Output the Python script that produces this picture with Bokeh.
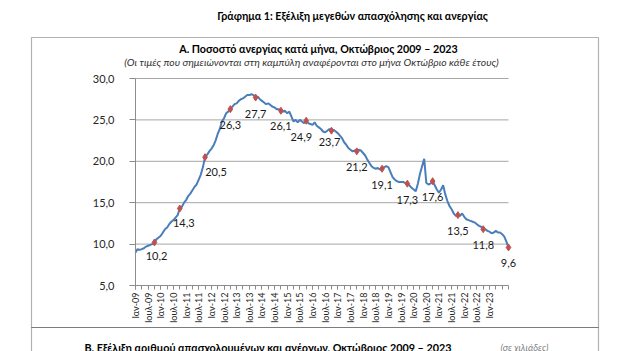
import math
from bokeh.plotting import figure
from bokeh.models import Range1d, FixedTicker, Label, BoxAnnotation, ColumnDataSource
from bokeh.core.properties import value
from bokeh.embed import file_html
from bokeh.resources import INLINE

# ---------------- data ----------------
years = list(range(2009, 2024))
rate_2009 = [9.0, 9.4, 9.3, 9.4, 9.5, 9.7, 9.8, 9.9, 10.0, 10.2, 10.6, 10.8]
rate_2010 = [11.0, 11.4, 11.8, 12.0, 12.4, 12.7, 12.9, 13.2, 13.5, 14.3, 14.5, 15.0]
rate_2011 = [15.3, 15.8, 16.1, 16.5, 16.9, 17.2, 17.8, 18.4, 19.3, 20.5, 20.8, 21.2]
rate_2012 = [21.5, 21.9, 22.5, 23.3, 23.9, 24.8, 25.2, 25.8, 26.0, 26.3, 26.6, 26.9]
rate_2013 = [27.0, 27.3, 27.5, 27.6, 27.8, 28.0, 28.0, 28.1, 28.0, 27.7, 27.8, 27.5]
rate_2014 = [27.3, 27.1, 26.9, 27.0, 26.8, 26.6, 26.5, 26.3, 26.3, 26.1, 26.0, 26.1]
rate_2015 = [25.8, 26.0, 25.4, 24.8, 25.0, 24.7, 25.0, 24.8, 24.6, 24.9, 24.6, 24.5]
rate_2016 = [24.4, 24.7, 24.3, 24.1, 23.9, 23.6, 23.5, 23.7, 23.9, 23.7, 23.8, 23.6]
rate_2017 = [23.4, 23.1, 22.8, 22.3, 22.0, 21.6, 21.4, 21.2, 21.3, 21.2, 21.4, 21.3]
rate_2018 = [21.0, 20.7, 20.2, 19.8, 19.4, 19.2, 19.1, 19.2, 19.0, 19.1, 19.3, 19.4]
rate_2019 = [19.3, 18.7, 18.1, 17.8, 17.6, 17.5, 17.5, 17.5, 17.4, 17.3, 17.1, 16.8]
rate_2020 = [16.6, 16.4, 17.3, 18.5, 19.4, 20.3, 17.4, 17.2, 17.3, 17.6, 17.1, 16.6]
rate_2021 = [16.2, 16.6, 17.1, 16.0, 15.2, 14.6, 14.2, 13.7, 13.4, 13.5, 13.4, 13.7]
rate_2022 = [13.3, 13.0, 12.9, 12.8, 12.7, 12.6, 12.4, 12.2, 12.1, 11.8, 11.8, 11.6]
rate_2023 = [11.5, 11.3, 11.4, 11.6, 11.4, 11.4, 11.2, 10.9, 10.3, 9.6]

october_values = [10.2, 14.3, 20.5, 26.3, 27.7, 26.1, 24.9, 23.7, 21.2, 19.1, 17.3, 17.6, 13.5, 11.8, 9.6]

month_prefix = ["Ιαν", "Ιουλ"]
tick_labels = [f"{m}-{y % 100:02d}" for y in years for m in month_prefix][:-1]

y_ticks = [5, 10, 15, 20, 25, 30]
y_tick_labels = ["5,0", "10,0", "15,0", "20,0", "25,0", "30,0"]

title_text = "Γράφημα 1: Εξέλιξη μεγεθών απασχόλησης και ανεργίας"
panel_title = "Α. Ποσοστό ανεργίας κατά μήνα, Οκτώβριος 2009 – 2023"
panel_note = "(Οι τιμές που σημειώνονται στη καμπύλη αναφέρονται στο μήνα Οκτώβριο κάθε έτους)"
next_panel_title = "Β. Εξέλιξη αριθμού απασχολουμένων και ανέργων, Οκτώβριος 2009 – 2023"
next_panel_unit = "(σε χιλιάδες)"

# ---------------- build ----------------
rates = (rate_2009 + rate_2010 + rate_2011 + rate_2012 + rate_2013 + rate_2014 +
         rate_2015 + rate_2016 + rate_2017 + rate_2018 + rate_2019 + rate_2020 +
         rate_2021 + rate_2022 + rate_2023)
months = list(range(len(rates)))
oct_idx = [(y - 2009) * 12 + 9 for y in years]

W, H = 619, 351
PL, PR, PT, PB = 135, 508, 78, 285   # plot-area edges in canvas pixels
M0, M1 = 0, len(rates) - 1
V0, V1 = 5, 30
sx = (PR - PL) / (M1 - M0)
sy = (PB - PT) / (V1 - V0)

p = figure(width=W, height=H, output_backend="svg", toolbar_location=None,
           x_range=Range1d(M0 - PL / sx, M1 + (W - PR) / sx),
           y_range=Range1d(V0 - (H - PB) / sy, V1 + PT / sy),
           min_border=0, background_fill_color="white", border_fill_color="white")
p.outline_line_color = None


def cx(px):
    return M0 + (px - PL) / sx


def cy(py):
    return V1 - (py - PT) / sy


FONT = "Lato"
GRAY = "#8c8c8c"

# y axis
p.yaxis.fixed_location = M0
p.yaxis.bounds = (V0, V1)
p.yaxis.ticker = FixedTicker(ticks=y_ticks)
p.yaxis.major_label_overrides = {t: s for t, s in zip(y_ticks, y_tick_labels)}
p.yaxis.major_label_text_font = FONT
p.yaxis.major_label_text_font_size = "11px"
p.yaxis.major_label_text_color = "#262626"
p.yaxis.axis_line_color = GRAY
p.yaxis.major_tick_line_color = GRAY
p.yaxis.major_tick_out = 6
p.yaxis.major_tick_in = 0
p.yaxis.minor_tick_line_color = None
p.yaxis.major_label_standoff = 15

# x axis
xt = list(range(0, len(rates), 6))[:len(tick_labels)]
p.xaxis.fixed_location = V0
p.xaxis.bounds = (M0, M1)
p.xaxis.ticker = FixedTicker(ticks=xt, minor_ticks=list(range(0, len(rates), 3)))
p.xaxis.major_label_overrides = {t: s for t, s in zip(xt, tick_labels)}
p.xaxis.major_label_orientation = math.pi / 2
p.xaxis.major_label_text_font = FONT
p.xaxis.major_label_text_font_size = "9px"
p.xaxis.major_label_text_color = "#262626"
p.xaxis.axis_line_color = GRAY
p.xaxis.major_tick_line_color = GRAY
p.xaxis.minor_tick_line_color = GRAY
p.xaxis.major_tick_out = 4
p.xaxis.major_tick_in = 0
p.xaxis.minor_tick_out = 4
p.xaxis.minor_tick_in = 0
p.xaxis.major_label_standoff = 3

# horizontal gridlines over the plot area only
p.xgrid.visible = False
p.ygrid.visible = False
p.segment(x0=[M0] * 5, x1=[M1] * 5, y0=y_ticks[1:], y1=y_ticks[1:],
          line_color="#a6a6a6", line_width=1)

# series
p.line(months, rates, line_color="#4a7ebb", line_width=2)
oct_src = ColumnDataSource(dict(
    x=oct_idx, y=october_values,
    t=[f"{v:.1f}".replace(".", ",") for v in october_values],
))
p.scatter("x", "y", source=oct_src, marker="diamond", size=7,
          fill_color="#c0504d", line_color="#c0504d")

label_dx = [2, 4, 11, 0, 0, 0, -5, -2, 0, 0, 0, 0, 0, 0, 0]
label_dy = [14, 15, 15, 16, 16, 15, 16, 11, 16, 16, 16, 16, 16, 16, 16]
for i in range(len(october_values)):
    p.text(x=[oct_idx[i]], y=[october_values[i]], text=[oct_src.data["t"][i]],
           x_offset=label_dx[i], y_offset=label_dy[i],
           text_align="center", text_baseline="middle",
           text_font=value(FONT), text_font_size="11px", text_color="#1a1a1a")

# surrounding page elements
p.add_layout(BoxAnnotation(left=cx(31), right=cx(598), top=cy(37), bottom=cy(327),
                           fill_alpha=0, line_color="black", line_width=1.2))
p.add_layout(BoxAnnotation(left=cx(31), right=cx(598), top=cy(327), bottom=cy(380),
                           fill_alpha=0, line_color="black", line_width=1.2))

p.add_layout(Label(x=cx(352), y=cy(15), text=title_text, text_align="center",
                   text_baseline="middle", text_font=FONT, text_font_style="bold",
                   text_font_size="10.7px", text_color="black"))
p.add_layout(Label(x=cx(318), y=cy(48), text=panel_title, text_align="center",
                   text_baseline="middle", text_font=FONT, text_font_style="bold",
                   text_font_size="10.7px", text_color="black"))
p.add_layout(Label(x=cx(311), y=cy(61), text=panel_note, text_align="center",
                   text_baseline="middle", text_font=FONT, text_font_style="italic",
                   text_font_size="10.4px", text_color="#333333"))
p.add_layout(Label(x=cx(84), y=cy(347), text=next_panel_title, text_align="left",
                   text_baseline="middle", text_font=FONT, text_font_style="bold",
                   text_font_size="10.8px", text_color="black"))
p.add_layout(Label(x=cx(548), y=cy(347), text=next_panel_unit, text_align="right",
                   text_baseline="middle", text_font=FONT, text_font_style="italic",
                   text_font_size="9.5px", text_color="#7f7f7f"))

open("out.html", "w").write(file_html(p, INLINE))
